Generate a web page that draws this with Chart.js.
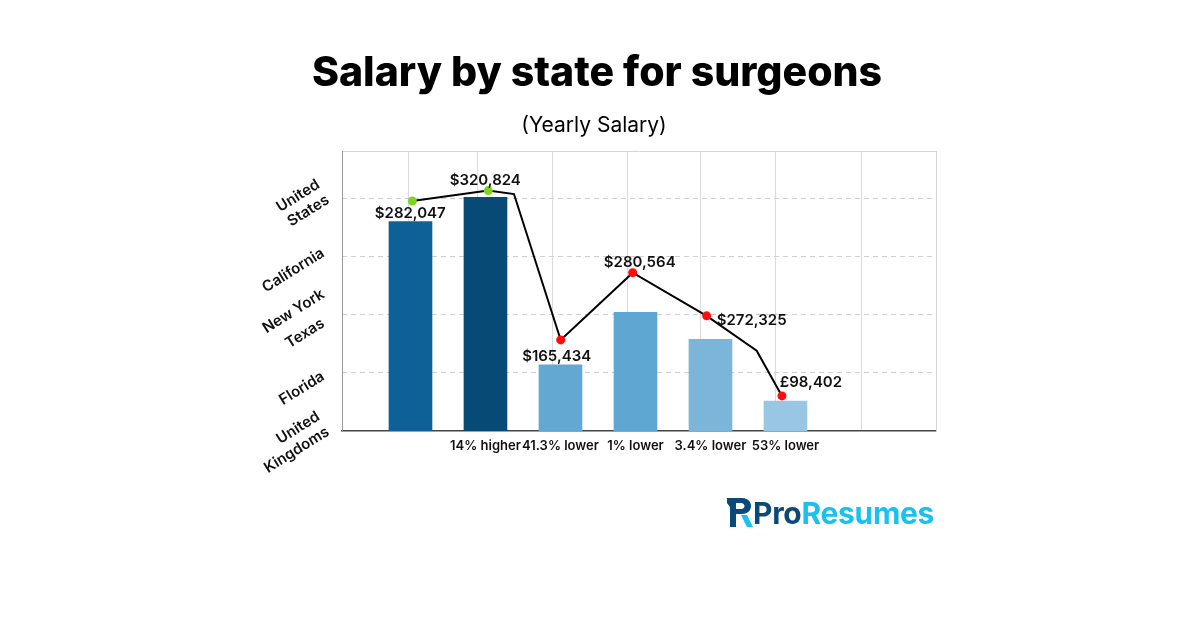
<!DOCTYPE html>
<html>
<head>
<meta charset="utf-8">
<script src="https://cdn.jsdelivr.net/npm/chart.js@4.4.1/dist/chart.umd.min.js"></script>
<style>
  body { margin:0; background:#fff; }
  #wrap { position:relative; width:1200px; height:628px; overflow:hidden; font-family:Inter,"Noto Sans",sans-serif; color:#000; }
  #box { position:absolute; left:0; top:0; width:1200px; height:628px; }
  #title { position:absolute; left:0; width:1194px; top:46px; margin:0; text-align:center; font-size:41px; font-weight:800; }
  #sub { position:absolute; left:0; width:1188px; top:112px; text-align:center; font-size:21px; font-weight:400; }
  #logo { position:absolute; left:727px; top:496px; height:34px; display:flex; align-items:center; }
  #logo span { font-size:30px; font-weight:700; letter-spacing:-0.3px; }
</style>
</head>
<body>
<div id="wrap">
  <div id="box"><canvas id="chart"></canvas></div>
  <h1 id="title">Salary by state for surgeons</h1>
  <div id="sub">(Yearly Salary)</div>
  <div id="logo">
    <svg width="26" height="30" viewBox="0 0 26 30">
      <path fill="#0b4a78" fill-rule="evenodd" d="M0 0 H15 C21 0 24 4 24 8 C24 13 20 16 15 16 H9 V29 H3 V9 L0 5 Z M9 5 H14 C16 5 17.5 6.5 17.5 8 C17.5 10 16 11 14 11 H9 Z"/>
      <path fill="#19c3f0" d="M14 17 L20 17 L26 29 L20 29 Z"/>
    </svg>
    <span style="margin-left:0;color:#0b4a78">Pro</span><span style="color:#19c1ef">Resumes</span>
  </div>
</div>
<script>
// values
const salaries   = [282047, 320824, 165434, 280564, 272325, 98402];
const currency   = ['$', '$', '$', '$', '$', '£'];
const compareTxt = ['', '14% higher', '41.3% lower', '1% lower', '3.4% lower', '53% lower'];
const barHeights = [72.2, 80.6, 22.8, 40.9, 31.6, 10.3];     // bars are not drawn to scale in the source
const barColors  = ['#0d6196', '#074a75', '#63a8d2', '#5ea7d3', '#7bb5da', '#98c6e3'];

// the connecting line, including its two bend points
const lineX   = [0.024, 1.037, 1.38, 2.003, 2.963, 3.949, 4.616, 4.953];
const lineY   = [79.3, 82.9, 81.7, 31.4, 54.6, 39.7, 27.7, 12.1];
const lineIdx = [0, 1, null, 2, 3, 4, null, 5];  // which salary each vertex marks
const dotColors = ['#7ed321', '#7ed321', '#ff0d0d', '#ff0d0d', '#ff0d0d', '#ff0d0d'];

// state names on the left axis
const stateNames = [['United', 'Kingdoms'], 'Florida', 'Texas', 'New York', 'California', ['United', 'States']];
const stateTicks = [2.8, 19.3, 37.6, 47.6, 61.8, 82.8];

const gridX = [-0.033, 0.9, 1.9, 2.887, 3.873, 4.873, 6.02];
const gridY = [20, 40, 60, 80];
const X_MIN = -0.913, X_MAX = 7.007, Y_MAX = 96.55;

// label offsets from each dot, px
const labelOff = [[-2, 12], [-3, -10], [-4, 17], [7, -10], [45, 5], [29, -13]];

const FONT = 'Inter, "Noto Sans", sans-serif';
Chart.defaults.font.family = FONT;

const valueLabels = {
  id: 'valueLabels',
  afterDatasetsDraw(chart) {
    const meta = chart.getDatasetMeta(0);
    const ctx = chart.ctx;
    ctx.save();
    ctx.font = '600 15px ' + FONT;
    ctx.fillStyle = '#111';
    ctx.textAlign = 'center';
    ctx.textBaseline = 'middle';
    meta.data.forEach((pt, i) => {
      const k = lineIdx[i];
      if (k === null) return;
      const txt = currency[k] + salaries[k].toLocaleString('en-US');
      ctx.fillText(txt, pt.x + labelOff[k][0], pt.y + labelOff[k][1]);
    });
    ctx.restore();
  }
};

new Chart(document.getElementById('chart'), {
  type: 'bar',
  data: {
    datasets: [
      {
        type: 'line',
        order: 0,
        data: lineX.map((x, i) => ({ x, y: lineY[i] })),
        borderColor: '#000',
        borderWidth: 2,
        tension: 0,
        pointRadius: lineIdx.map(k => k === null ? 0 : 4.5),
        pointBackgroundColor: lineIdx.map(k => k === null ? 'transparent' : dotColors[k]),
        pointBorderWidth: 0,
        xAxisID: 'x', yAxisID: 'y'
      },
      {
        type: 'bar',
        order: 1,
        data: barHeights.map((h, i) => ({ x: i, y: h })),
        backgroundColor: barColors,
        barThickness: 43,
        xAxisID: 'x', yAxisID: 'y'
      }
    ]
  },
  options: {
    responsive: true,
    maintainAspectRatio: false,
    animation: false,
    layout: { padding: { left: 250, top: 151, right: 264, bottom: 167 } },
    plugins: { legend: { display: false }, tooltip: { enabled: false } },
    scales: {
      x: {
        type: 'linear', min: X_MIN, max: X_MAX, position: 'bottom', offset: false,
        grid: { display: false, drawTicks: false },
        border: { color: '#444', width: 1.5 },
        afterBuildTicks: s => { s.ticks = compareTxt.map((_, i) => ({ value: i })); },
        ticks: {
          autoSkip: false, maxRotation: 0, padding: 7, color: '#111',
          font: { size: 13, weight: '600' },
          callback: v => compareTxt[v] ?? ''
        },
        afterFit: s => { s.height = 30; }
      },
      xg: {
        type: 'linear', min: X_MIN, max: X_MAX, position: 'top', offset: false, z: 1,
        ticks: { display: false },
        grid: { color: 'rgba(195,195,195,0.6)', drawTicks: false, offset: false },
        border: { color: '#d4d4d4' },
        afterBuildTicks: s => { s.ticks = gridX.map(v => ({ value: v })); }
      },
      y: {
        type: 'linear', min: 0, max: Y_MAX, position: 'left',
        grid: { display: false },
        border: { color: '#999' },
        afterBuildTicks: s => { s.ticks = stateTicks.map(v => ({ value: v })); },
        ticks: {
          autoSkip: false, minRotation: 32, maxRotation: 32, padding: 11, color: '#111',
          font: { size: 15, weight: '600' },
          callback: v => stateNames[stateTicks.indexOf(v)]
        },
        afterFit: s => { s.width = 92; }
      },
      yg: {
        type: 'linear', min: 0, max: Y_MAX, position: 'right',
        ticks: { display: false },
        grid: { color: '#cfcfcf', drawTicks: false },
        border: { color: '#d4d4d4', dash: [5, 4] },
        afterBuildTicks: s => { s.ticks = gridY.map(v => ({ value: v })); }
      }
    }
  },
  plugins: [valueLabels]
});
</script>
</body>
</html>
